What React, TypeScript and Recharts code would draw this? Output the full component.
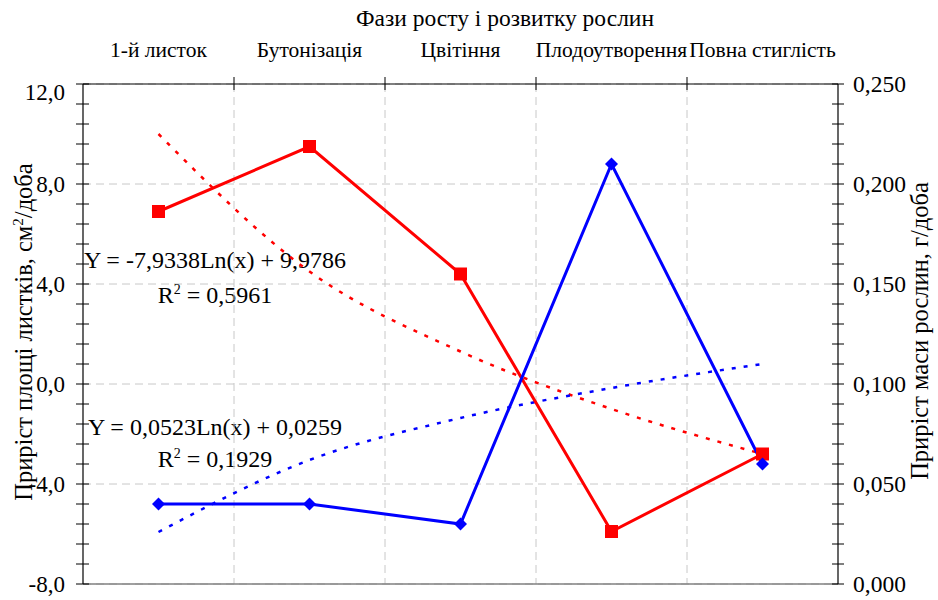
import React from 'react';
import { ComposedChart, Line, XAxis, YAxis, CartesianGrid, ReferenceLine } from 'recharts';

const FONT = "'Liberation Serif', 'Times New Roman', Times, 'DejaVu Serif', serif";
const TXT = { fontFamily: FONT };

const categories = ['1-й листок', 'Бутонізація', 'Цвітіння', 'Плодоутворення', 'Повна стиглість'];
const leafArea = [6.9, 9.5, 4.4, -5.9, -2.8];
const massGain = [0.04, 0.04, 0.03, 0.21, 0.06];
const leafTrend = [10.0, 4.5, 1.3, -1.0, -2.8];
const massTrend = [0.026, 0.062, 0.083, 0.098, 0.11];

const leftMajorTicks = [-8, -4, 0, 4, 8, 12];
const rightMajorTicks = [0, 0.05, 0.1, 0.15, 0.2, 0.25];
const leftTicks = Array.from({ length: 26 }, (_, k) => (k * 4 - 40) / 5);
const rightTicks = Array.from({ length: 26 }, (_, k) => k / 100);
const xTicks = [0.5, 1, 1.5, 2, 2.5, 3, 3.5, 4, 4.5, 5, 5.5];
const boundaries = [1.5, 2.5, 3.5, 4.5];

const data = categories.map((name, i) => ({
  x: i + 1,
  name,
  leaf: leafArea[i],
  mass: massGain[i],
  leafTrend: leafTrend[i],
  massTrend: massTrend[i],
}));

const isMajor = (v: number, list: number[]) => list.some((m) => Math.abs(m - v) < 1e-9);

const XTick = (props: any) => {
  const { x, y, payload } = props;
  const v = payload.value;
  if (Number.isInteger(v)) {
    return (
      <text x={x} y={y - 27} textAnchor="middle" style={TXT} fontSize={21.5} fill="#000">
        {categories[v - 1]}
      </text>
    );
  }
  if (v > 0.5 && v < 5.5) {
    return <line x1={x} x2={x} y1={y - 7} y2={y + 6} stroke="#000" strokeWidth={1} />;
  }
  return <g />;
};

const LeftTick = (props: any) => {
  const { x, y, payload } = props;
  const v = payload.value;
  const major = isMajor(v, leftMajorTicks);
  return (
    <g>
      <line x1={x - 7} x2={x + 6} y1={y} y2={y} stroke="#000" strokeWidth={1} />
      {major && (
        <text
          x={x - 18}
          y={y + (v === 12 ? 8 : 0)}
          dy="0.35em"
          textAnchor="end"
          style={TXT}
          fontSize={23}
          fill="#000"
        >
          {v.toFixed(1).replace('.', ',')}
        </text>
      )}
    </g>
  );
};

const RightTick = (props: any) => {
  const { x, y, payload } = props;
  const v = payload.value;
  const major = isMajor(v, rightMajorTicks);
  return (
    <g>
      <line x1={x - 6} x2={x + 6} y1={y} y2={y} stroke="#000" strokeWidth={1} />
      {major && (
        <text x={x + 15} y={y} dy="0.35em" textAnchor="start" style={TXT} fontSize={23.5} fill="#000">
          {v.toFixed(3).replace('.', ',')}
        </text>
      )}
    </g>
  );
};

const RedSquare = (props: any) => {
  const { cx, cy, index } = props;
  return <rect key={`rs-${index}`} x={cx - 6.5} y={cy - 6.5} width={13} height={13} fill="#ff0000" />;
};

const BlueDiamond = (props: any) => {
  const { cx, cy, index } = props;
  const r = 6.5;
  return (
    <polygon
      key={`bd-${index}`}
      points={`${cx},${cy - r} ${cx + r},${cy} ${cx},${cy + r} ${cx - r},${cy}`}
      fill="#0000ff"
    />
  );
};

export default function App() {
  return (
    <div style={{ position: 'absolute', left: 0, top: 0, width: 938, height: 600, background: '#fff', fontFamily: FONT }}>
      <ComposedChart
        width={938}
        height={600}
        data={data}
        margin={{ top: 0, right: 0, bottom: 16, left: 0 }}
      >
        <CartesianGrid
          xAxisId="x"
          yAxisId="l"
          vertical={false}
          horizontalValues={leftMajorTicks}
          stroke="#c8c8c8"
          strokeDasharray="8 5"
        />
        {boundaries.map((b) => (
          <ReferenceLine
            key={`vb-${b}`}
            xAxisId="x"
            yAxisId="l"
            x={b}
            stroke="#c8c8c8"
            strokeDasharray="8 5"
          />
        ))}
        <ReferenceLine xAxisId="x" yAxisId="l" y={-8} stroke="#808080" strokeWidth={1.5} />
        <XAxis
          xAxisId="x"
          dataKey="x"
          type="number"
          orientation="top"
          domain={[0.5, 5.5]}
          ticks={xTicks}
          interval={0}
          height={84}
          tickSize={0}
          tickMargin={0}
          tickLine={false}
          axisLine={{ stroke: '#000', strokeWidth: 1.2 }}
          tick={<XTick />}
        />
        <YAxis
          yAxisId="l"
          orientation="left"
          width={83}
          domain={[-8, 12]}
          ticks={leftTicks}
          interval={0}
          tickSize={0}
          tickMargin={0}
          tickLine={false}
          axisLine={{ stroke: '#000', strokeWidth: 1.2 }}
          tick={<LeftTick />}
        />
        <YAxis
          yAxisId="r"
          orientation="right"
          width={100}
          domain={[0, 0.25]}
          ticks={rightTicks}
          interval={0}
          tickSize={0}
          tickMargin={0}
          tickLine={false}
          axisLine={{ stroke: '#000', strokeWidth: 1.2 }}
          tick={<RightTick />}
        />
        <Line
          xAxisId="x"
          yAxisId="l"
          dataKey="leafTrend"
          type="monotone"
          stroke="#ff0000"
          strokeWidth={2.5}
          strokeDasharray="4 8"
          dot={false}
          activeDot={false}
          isAnimationActive={false}
        />
        <Line
          xAxisId="x"
          yAxisId="r"
          dataKey="massTrend"
          type="monotone"
          stroke="#0000ff"
          strokeWidth={2.5}
          strokeDasharray="4 8"
          dot={false}
          activeDot={false}
          isAnimationActive={false}
        />
        <Line
          xAxisId="x"
          yAxisId="l"
          dataKey="leaf"
          type="linear"
          stroke="#ff0000"
          strokeWidth={3}
          dot={<RedSquare />}
          activeDot={false}
          isAnimationActive={false}
        />
        <Line
          xAxisId="x"
          yAxisId="r"
          dataKey="mass"
          type="linear"
          stroke="#0000ff"
          strokeWidth={3}
          dot={<BlueDiamond />}
          activeDot={false}
          isAnimationActive={false}
        />
        <text x={505} y={26} textAnchor="middle" style={TXT} fontSize={23.5} fill="#000">
          Фази росту і розвитку рослин
        </text>
        <text
          x={0}
          y={0}
          transform="translate(32 332) rotate(-90)"
          textAnchor="middle"
          style={TXT}
          fontSize={24.5}
          fill="#000"
        >
          <tspan>Приріст площі листків, см</tspan>
          <tspan dy={-9} fontSize={15}>2</tspan>
          <tspan dy={9}>/доба</tspan>
        </text>
        <text
          x={0}
          y={0}
          transform="translate(928 331) rotate(-90)"
          textAnchor="middle"
          style={TXT}
          fontSize={24.5}
          fill="#000"
        >
          Приріст маси рослин, г/доба
        </text>
        <text x={215} y={268} textAnchor="middle" style={TXT} fontSize={24} fill="#000">
          Y = -7,9338Ln(x) + 9,9786
        </text>
        <text x={215} y={303} textAnchor="middle" style={TXT} fontSize={24} fill="#000">
          <tspan>R</tspan>
          <tspan dy={-9} fontSize={14}>2</tspan>
          <tspan dy={9}> = 0,5961</tspan>
        </text>
        <text x={215} y={435} textAnchor="middle" style={TXT} fontSize={24} fill="#000">
          Y = 0,0523Ln(x) + 0,0259
        </text>
        <text x={215} y={467} textAnchor="middle" style={TXT} fontSize={24} fill="#000">
          <tspan>R</tspan>
          <tspan dy={-9} fontSize={14}>2</tspan>
          <tspan dy={9}> = 0,1929</tspan>
        </text>
      </ComposedChart>
    </div>
  );
}
